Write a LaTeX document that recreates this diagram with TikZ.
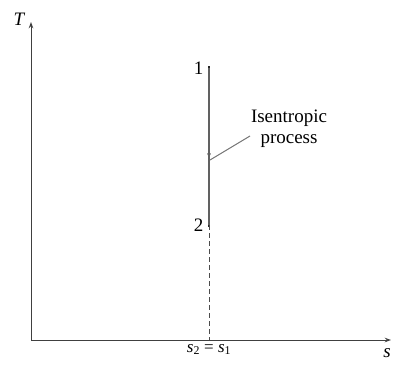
\documentclass[tikz,border=0pt]{standalone}
\usepackage{fontspec}
\setmainfont{Liberation Serif}
\usetikzlibrary{arrows.meta, positioning, decorations.markings}

\newcommand{\svar}[1]{\textit{s}\textsubscript{#1}}

\begin{document}
\begin{tikzpicture}[
    x=1pt, y=-1pt,
    axis/.style={line width=1pt, draw=black!75, -{Stealth[length=2.2mm, width=1.6mm]}},
    proc/.style={line width=1.6pt, draw=black!62,
                 postaction={decorate, decoration={markings,
                   mark=at position 0.58 with {\arrow{Latex[length=2mm, width=1.4mm]}}}}},
    proj/.style={line width=0.8pt, draw=black!70, dash pattern=on 5pt off 3pt},
    state/.style={fill=black!85, inner sep=0pt, minimum width=2.6pt, minimum height=4pt},
    lbl/.style={font=\fontsize{19}{22}\selectfont, inner sep=1pt},
    lead/.style={line width=1pt, draw=black!55}
]
\useasboundingbox (0,0) rectangle (393,365);

% axes
\coordinate (O) at (31,340);
\coordinate (Ttop) at (31,22);
\coordinate (send) at (391,340);
\draw[axis] (O) -- (Ttop);
\draw[axis] (O) -- (send);
\node[lbl, font=\fontsize{19}{22}\selectfont\itshape] (Tlab) at (19,19) {T};
\node[lbl, font=\fontsize{19}{22}\selectfont\itshape] (slab) at (387,353) {s};

% isentropic process 1-2
\node[state] (p1) at (209,68) {};
\node[state] (p2) at (209,225) {};
\coordinate (foot) at (209,340);
\draw[proc] (p1.center) -- (p2.center);
\draw[proj] (p2.center) -- (foot);
\node[lbl, left=3pt of p1] (n1) {1};
\node[lbl, left=3pt of p2] (n2) {2};
\node[lbl, below=3pt of foot, font=\fontsize{17}{20}\selectfont] (s21) {\svar{2} = \svar{1}};

% label
\node[lbl, align=center, font=\fontsize{19}{21}\selectfont] (iso) at (289,129) {Isentropic\\process};
\coordinate (hit) at (210,160);
\draw[lead] (hit) -- (250,136);

\end{tikzpicture}
\end{document}
